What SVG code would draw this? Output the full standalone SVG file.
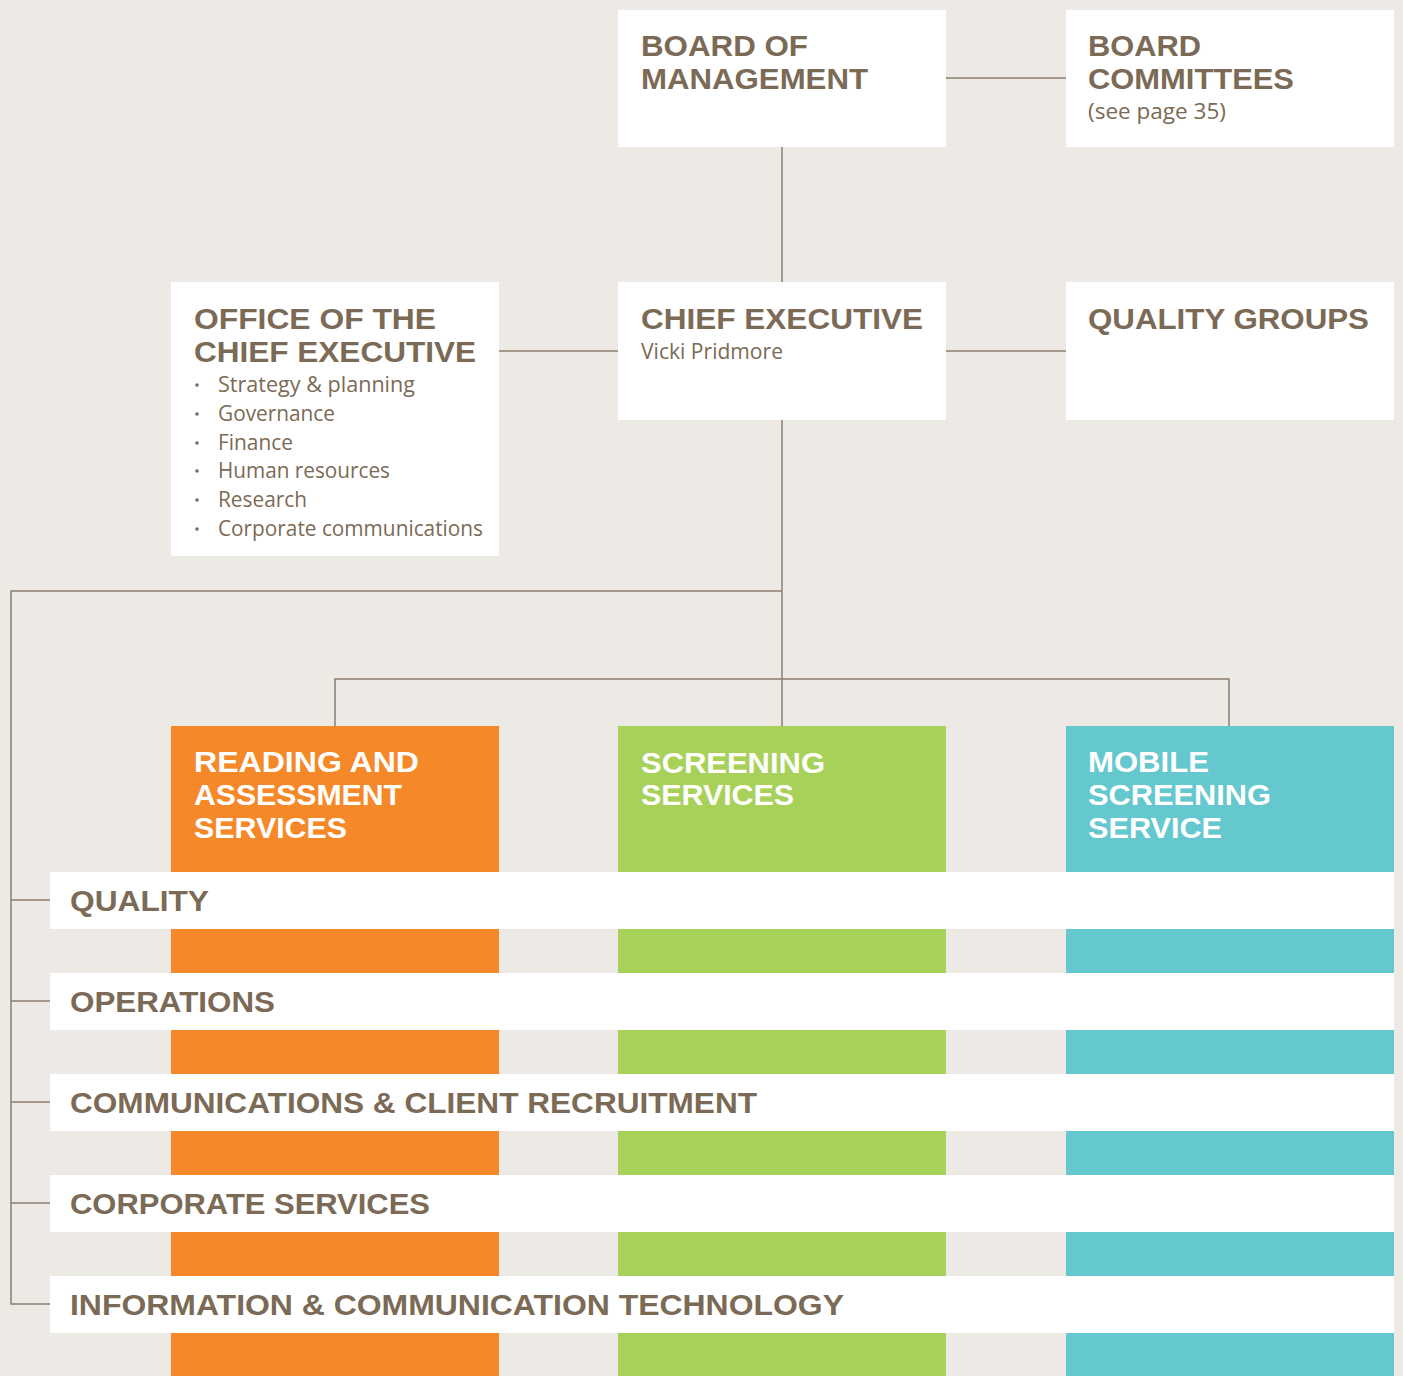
<svg xmlns="http://www.w3.org/2000/svg" width="1403" height="1376" viewBox="0 0 1403 1376">
<style>
.bg{fill:#EDEAE5}
.box{fill:#FFFFFF}
.or{fill:#F5892A}
.gr{fill:#A8D15A}
.te{fill:#65C8CF}
.h{font-family:"Liberation Sans",Arial,sans-serif;font-weight:bold;font-size:29px;fill:#7B6A55}
.hw{font-family:"Liberation Sans",Arial,sans-serif;font-weight:bold;font-size:29px;fill:#FFFFFF}
.b{font-family:"Open Sans","Liberation Sans",sans-serif;font-size:22px;fill:#7B6A55}
.ln{stroke:#8C7E6C;stroke-width:1.5;fill:none}
</style>
<rect class="bg" x="0" y="0" width="1403" height="1376"/>
<g id="connectors">
<line class="ln" x1="946" y1="78" x2="1066" y2="78"/>
<line class="ln" x1="782" y1="147" x2="782" y2="282"/>
<line class="ln" x1="499" y1="351" x2="618" y2="351"/>
<line class="ln" x1="946" y1="351" x2="1066" y2="351"/>
<line class="ln" x1="782" y1="420" x2="782" y2="726"/>
<polyline class="ln" points="782,591 11,591 11,1304 50,1304"/>
<line class="ln" x1="11" y1="900" x2="50" y2="900"/>
<line class="ln" x1="11" y1="1001" x2="50" y2="1001"/>
<line class="ln" x1="11" y1="1102" x2="50" y2="1102"/>
<line class="ln" x1="11" y1="1203" x2="50" y2="1203"/>
<polyline class="ln" points="335,726 335,679 1229,679 1229,726"/>
</g>
<g id="board-of-management">
<rect class="box" x="618" y="10" width="328" height="137"/>
<text class="h" x="641" y="56" textLength="167" lengthAdjust="spacingAndGlyphs">BOARD OF</text>
<text class="h" x="641" y="89" textLength="227" lengthAdjust="spacingAndGlyphs">MANAGEMENT</text>
</g>
<g id="board-committees">
<rect class="box" x="1066" y="10" width="328" height="137"/>
<text class="h" x="1088" y="56" textLength="113" lengthAdjust="spacingAndGlyphs">BOARD</text>
<text class="h" x="1088" y="89" textLength="206" lengthAdjust="spacingAndGlyphs">COMMITTEES</text>
<text class="b" x="1088" y="119" textLength="138" lengthAdjust="spacingAndGlyphs">(see page 35)</text>
</g>
<g id="office-of-chief-executive">
<rect class="box" x="171" y="282" width="328" height="274"/>
<text class="h" x="194" y="329" textLength="242" lengthAdjust="spacingAndGlyphs">OFFICE OF THE</text>
<text class="h" x="194" y="362" textLength="282" lengthAdjust="spacingAndGlyphs">CHIEF EXECUTIVE</text>
<g class="b">
<circle cx="197" cy="385" r="1.8" fill="#7B6A55"/>
<text x="218" y="392" textLength="197" lengthAdjust="spacingAndGlyphs">Strategy &amp; planning</text>
<circle cx="197" cy="414" r="1.8" fill="#7B6A55"/>
<text x="218" y="421" textLength="117" lengthAdjust="spacingAndGlyphs">Governance</text>
<circle cx="197" cy="443" r="1.8" fill="#7B6A55"/>
<text x="218" y="450" textLength="75" lengthAdjust="spacingAndGlyphs">Finance</text>
<circle cx="197" cy="471" r="1.8" fill="#7B6A55"/>
<text x="218" y="478" textLength="172" lengthAdjust="spacingAndGlyphs">Human resources</text>
<circle cx="197" cy="500" r="1.8" fill="#7B6A55"/>
<text x="218" y="507" textLength="89" lengthAdjust="spacingAndGlyphs">Research</text>
<circle cx="197" cy="529" r="1.8" fill="#7B6A55"/>
<text x="218" y="536" textLength="265" lengthAdjust="spacingAndGlyphs">Corporate communications</text>
</g>
</g>
<g id="chief-executive">
<rect class="box" x="618" y="282" width="328" height="138"/>
<text class="h" x="641" y="329" textLength="282" lengthAdjust="spacingAndGlyphs">CHIEF EXECUTIVE</text>
<text class="b" x="641" y="359" textLength="142" lengthAdjust="spacingAndGlyphs">Vicki Pridmore</text>
</g>
<g id="quality-groups">
<rect class="box" x="1066" y="282" width="328" height="138"/>
<text class="h" x="1088" y="329" textLength="281" lengthAdjust="spacingAndGlyphs">QUALITY GROUPS</text>
</g>
<g id="reading-assessment">
<rect class="or" x="171" y="726" width="328" height="650"/>
<text class="hw" x="194" y="772" textLength="225" lengthAdjust="spacingAndGlyphs">READING AND</text>
<text class="hw" x="194" y="805" textLength="208" lengthAdjust="spacingAndGlyphs">ASSESSMENT</text>
<text class="hw" x="194" y="838" textLength="153" lengthAdjust="spacingAndGlyphs">SERVICES</text>
</g>
<g id="screening-services">
<rect class="gr" x="618" y="726" width="328" height="650"/>
<text class="hw" x="641" y="773" textLength="184" lengthAdjust="spacingAndGlyphs">SCREENING</text>
<text class="hw" x="641" y="805" textLength="153" lengthAdjust="spacingAndGlyphs">SERVICES</text>
</g>
<g id="mobile-screening">
<rect class="te" x="1066" y="726" width="328" height="650"/>
<text class="hw" x="1088" y="772" textLength="121" lengthAdjust="spacingAndGlyphs">MOBILE</text>
<text class="hw" x="1088" y="805" textLength="183" lengthAdjust="spacingAndGlyphs">SCREENING</text>
<text class="hw" x="1088" y="838" textLength="134" lengthAdjust="spacingAndGlyphs">SERVICE</text>
</g>
<g id="quality">
<rect class="box" x="50" y="872" width="1344" height="57"/>
<text class="h" x="70" y="911" textLength="139" lengthAdjust="spacingAndGlyphs">QUALITY</text>
</g>
<g id="operations">
<rect class="box" x="50" y="973" width="1344" height="57"/>
<text class="h" x="70" y="1012" textLength="205" lengthAdjust="spacingAndGlyphs">OPERATIONS</text>
</g>
<g id="communications">
<rect class="box" x="50" y="1074" width="1344" height="57"/>
<text class="h" x="70" y="1113" textLength="687" lengthAdjust="spacingAndGlyphs">COMMUNICATIONS &amp; CLIENT RECRUITMENT</text>
</g>
<g id="corporate-services">
<rect class="box" x="50" y="1175" width="1344" height="57"/>
<text class="h" x="70" y="1214" textLength="360" lengthAdjust="spacingAndGlyphs">CORPORATE SERVICES</text>
</g>
<g id="ict">
<rect class="box" x="50" y="1276" width="1344" height="57"/>
<text class="h" x="70" y="1315" textLength="774" lengthAdjust="spacingAndGlyphs">INFORMATION &amp; COMMUNICATION TECHNOLOGY</text>
</g>
</svg>
